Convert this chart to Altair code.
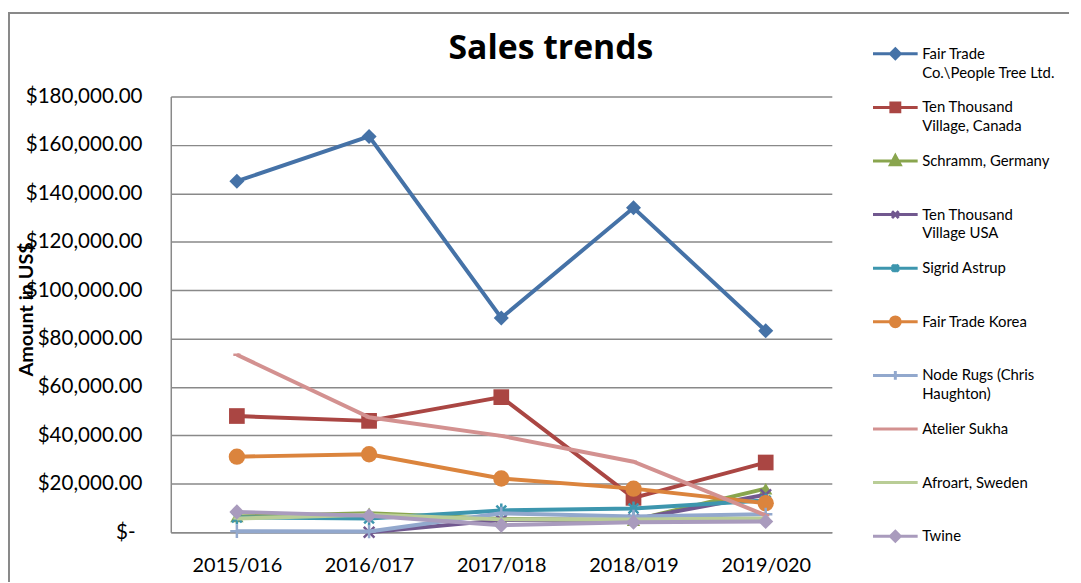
import altair as alt
import pandas as pd

years = ["2015/016", "2016/017", "2017/018", "2018/019", "2019/020"]

series_names = [
    "Fair Trade\nCo.\\People Tree Ltd.",
    "Ten Thousand\nVillage, Canada",
    "Schramm, Germany",
    "Ten Thousand\nVillage USA",
    "Sigrid Astrup",
    "Fair Trade Korea",
    "Node Rugs (Chris\nHaughton)",
    "Atelier Sukha",
    "Afroart, Sweden",
    "Twine",
]

fair_trade_co = [145000, 163500, 88500, 134000, 83200]
ttv_canada = [48000, 46000, 55800, 14200, 28800]
schramm = [6500, 7800, 5500, 5000, 18000]
ttv_usa = [None, 0, 5000, 5300, 15500]
sigrid_astrup = [6100, 5700, 9000, 9800, 13100]
fair_trade_korea = [31200, 32200, 22200, 18000, 12000]
node_rugs = [400, 300, 7800, 6500, 7400]
atelier_sukha = [73300, 47500, 39800, 29100, 7000]
afroart = [5700, 7200, 5300, 5300, 5700]
twine = [8400, 6800, 2900, 4100, 4400]

series_values = [fair_trade_co, ttv_canada, schramm, ttv_usa, sigrid_astrup,
                 fair_trade_korea, node_rugs, atelier_sukha, afroart, twine]

colors = ["#4572A7", "#AA4643", "#89A54E", "#71588F", "#3D96AE",
          "#DB843D", "#92A8CD", "#D39190", "#B9CD96", "#A99BBD"]

# marker: (shape, filled, size)
markers = [
    ("diamond", True, 230),
    ("square", True, 250),
    ("triangle-up", True, 180),
    ("M-0.8,-0.8L0.8,0.8M-0.8,0.8L0.8,-0.8", False, 180),
    ("M-0.7,-0.7L0.7,0.7M-0.7,0.7L0.7,-0.7M0,-1L0,1", False, 200),
    ("circle", True, 270),
    ("M-1,0L1,0M0,-1L0,1", False, 180),
    ("M-0.8,0L0.8,0", False, 80),
    ("M-0.8,0L0.8,0", False, 80),
    ("diamond", True, 230),
]

LINE = "M-1,0L1,0"
legend_symbols = [
    LINE + "M0,-0.22L0.22,0L0,0.22L-0.22,0Z",
    LINE + "M-0.2,-0.2L0.2,-0.2L0.2,0.2L-0.2,0.2Z",
    LINE + "M0,-0.24L0.22,0.17L-0.22,0.17Z",
    LINE + "M-0.15,-0.15L0.15,0.15M-0.15,0.15L0.15,-0.15",
    LINE + "M-0.15,-0.15L0.15,0.15M-0.15,0.15L0.15,-0.15M0,-0.18L0,0.18",
    LINE + "M-0.22,0A0.22,0.22,0,1,0,0.22,0A0.22,0.22,0,1,0,-0.22,0Z",
    LINE + "M0,-0.2L0,0.2",
    LINE + "M-0.15,0L0.15,0",
    LINE + "M-0.15,0L0.15,0",
    LINE + "M0,-0.22L0.22,0L0,0.22L-0.22,0Z",
]

rows = []
for i, (name, vals) in enumerate(zip(series_names, series_values)):
    for yr, v in zip(years, vals):
        rows.append({"year": yr, "series": name, "idx": i, "amount": v})
df = pd.DataFrame(rows)

FONT = "Lato"
GRAY = "#898989"

x_enc = alt.X("year:N", sort=years, scale=alt.Scale(type="point", padding=0.5),
              axis=alt.Axis(title=None, ticks=False, tickSize=0, labelPadding=24,
                            labelFontSize=20, labelFont=FONT, labelColor="black",
                            domainColor=GRAY, domainWidth=1.5, grid=False, labelAngle=0))
y_enc = alt.Y("amount:Q", scale=alt.Scale(domain=[0, 180000], nice=False),
              axis=alt.Axis(values=list(range(0, 180001, 20000)),
                            labelExpr="datum.value == 0 ? '$-' : '$' + format(datum.value, ',.2f')",
                            ticks=False, tickSize=0,
                            labelPadding={"condition": {"test": "datum.value == 0", "value": 36}, "value": 29},
                            labelFontSize=20.7,
                            labelFont=FONT, labelColor="black",
                            domainColor=GRAY, domainWidth=1.5,
                            grid=True, gridColor=GRAY, gridWidth=1.5,
                            title="Amount in US$", titleFont=FONT, titleFontSize=20,
                            titleFontWeight="bold", titleColor="black",
                            titleX=-145, titleY=214, titleAngle=270,
                            titleBaseline="middle", titleAlign="center"))

color_scale = alt.Scale(domain=series_names, range=colors)

series_layers = []
for i in range(len(series_names)):
    shp, filled, sz = markers[i]
    base = alt.Chart(df).transform_filter(alt.FieldEqualPredicate(field="idx", equal=i))
    ln = base.mark_line(strokeWidth=4, color=colors[i]).encode(x=x_enc, y=y_enc)
    if filled:
        pt = base.transform_filter("isValid(datum.amount)").mark_point(
            shape=shp, filled=True, size=sz, color=colors[i], opacity=1)
    else:
        pt = base.transform_filter("isValid(datum.amount)").mark_point(
            shape=shp, filled=False, size=sz, color=colors[i], strokeWidth=2.5, opacity=1)
    pt = pt.encode(x=x_enc, y=y_enc)
    series_layers += [ln, pt]

leg = alt.Legend(orient="none", legendX=706, legendY=-70, title=None, padding=0,
                 labelFont=FONT, labelFontSize=15, labelColor="black",
                 labelBaseline="middle", labelExpr="split(datum.label, '\\n')",
                 labelLimit=240, labelOffset=3, rowPadding=0, clipHeight=54,
                 symbolSize=2025, symbolStrokeWidth=3, symbolOpacity=1)

legend_layer = alt.Chart(df).transform_filter("datum.amount < -1").mark_point(
    filled=True, size=2025, strokeWidth=3, opacity=1
).encode(
    x=x_enc, y=y_enc,
    fill=alt.Fill("series:N", scale=color_scale, legend=leg),
    stroke=alt.Stroke("series:N", scale=color_scale, legend=leg),
    shape=alt.Shape("series:N", scale=alt.Scale(domain=series_names, range=legend_symbols), legend=leg),
)

frame_df = pd.DataFrame({"k": [0]})
frame_top = alt.Chart(frame_df).mark_rule(color=GRAY, strokeWidth=2).encode(
    x=alt.value(-164), x2=alt.value(905), y=alt.value(-84))
frame_left = alt.Chart(frame_df).mark_rule(color=GRAY, strokeWidth=2).encode(
    x=alt.value(-163), y=alt.value(-84), y2=alt.value(490))

chart = alt.layer(frame_top, frame_left, *series_layers, legend_layer).properties(
    width=666, height=439,
    title=alt.TitleParams("Sales trends", font="Open Sans", fontSize=34, fontWeight="bold",
                          color="black", anchor="middle", dx=50, frame="group",
                          baseline="alphabetic", offset=0, dy=81),
    autosize=alt.AutoSizeParams(type="none"),
    padding={"left": 164, "top": 87, "right": 243, "bottom": 48},
).configure(
    background="white",
    view=alt.ViewConfig(strokeWidth=0),
    style={"guide-label": {"lineHeight": 19}},
)

chart.save("out.html", embed_options={"renderer": "svg", "actions": False})
